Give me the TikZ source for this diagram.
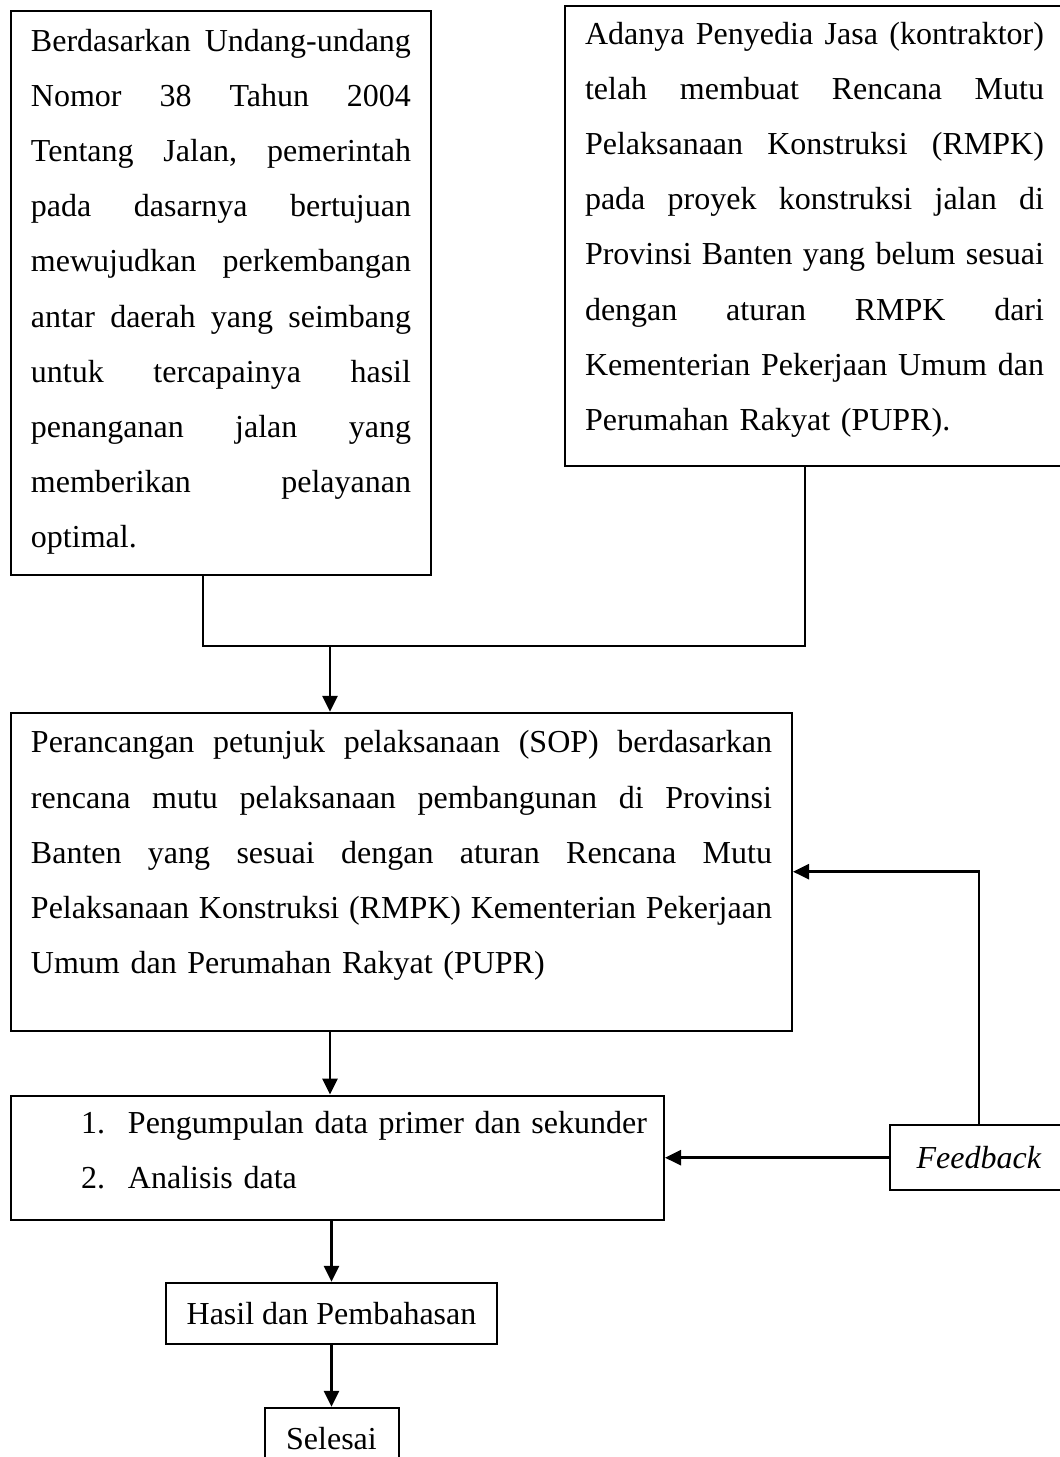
\documentclass[tikz,border=0pt]{standalone}
\usepackage{fontspec}
\setmainfont{Liberation Serif}
\usetikzlibrary{positioning,arrows.meta}

\newcommand{\boxfont}{\fontsize{16pt}{27.6pt}\selectfont}
\newcommand{\jline}[1]{\leavevmode\hbox to \linewidth{\frenchspacing\spaceskip=0.25em plus 1fil\relax #1}}
\newcommand{\firstgap}[1]{\rule{0pt}{#1}}
\newcommand{\lastgap}[1]{\rule[-#1]{0pt}{#1}}

\tikzset{
  block/.style={rectangle, draw, line width=1pt, inner xsep=10pt, inner ysep=0pt, align=left, font=\boxfont},
  smallblock/.style={rectangle, draw, line width=1pt, inner sep=0pt, minimum height=30.5pt, font=\boxfont},
  link/.style={line width=1.3pt},
  arrow/.style={link, -{Triangle[length=8pt,width=7.5pt]}}
}

\begin{document}
\begin{tikzpicture}[x=0.5pt, y=-0.5pt]
    \useasboundingbox (0,0) rectangle (1060,1457);

    % two starting boxes
    \node[block, text width=190pt, anchor=north west] (dasar) at (10,10) {%
        \firstgap{20pt}\jline{Berdasarkan Undang-undang}\\
        \jline{Nomor 38 Tahun 2004}\\
        \jline{Tentang Jalan, pemerintah}\\
        \jline{pada dasarnya bertujuan}\\
        \jline{mewujudkan perkembangan}\\
        \jline{antar daerah yang seimbang}\\
        \jline{untuk tercapainya hasil}\\
        \jline{penanganan jalan yang}\\
        \jline{memberikan pelayanan}\\
        optimal.\lastgap{13.5pt}};
    \node[block, text width=229.5pt, anchor=north west] (masalah) at (564,5) {%
        \firstgap{19pt}\jline{Adanya Penyedia Jasa (kontraktor)}\\
        \jline{telah membuat Rencana Mutu}\\
        \jline{Pelaksanaan Konstruksi (RMPK)}\\
        \jline{pada proyek konstruksi jalan di}\\
        \jline{Provinsi Banten yang belum sesuai}\\
        \jline{dengan aturan RMPK dari}\\
        \jline{Kementerian Pekerjaan Umum dan}\\
        Perumahan Rakyat (PUPR).\lastgap{17.8pt}};

    % points of the joining line
    \coordinate (m1) at (203,646);
    \coordinate (m2) at (805,646);
    \coordinate (mid) at (330,646);

    \node[block, text width=370.5pt, below=68pt of dasar.south west, anchor=north west] (sop) {%
        \firstgap{20pt}\jline{Perancangan petunjuk pelaksanaan (SOP) berdasarkan}\\
        \jline{rencana mutu pelaksanaan pembangunan di Provinsi}\\
        \jline{Banten yang sesuai dengan aturan Rencana Mutu}\\
        \jline{Pelaksanaan Konstruksi (RMPK) Kementerian Pekerjaan}\\
        Umum dan Perumahan Rakyat (PUPR)\lastgap{28.5pt}};
    \node[block, text width=306.5pt, below=31.5pt of sop.south west, anchor=north west] (data) {%
        \firstgap{19pt}\hspace*{25pt}\makebox[23.5pt][l]{1.}\mbox{Pengumpulan data primer dan sekunder}\\
        \hspace*{25pt}\makebox[23.5pt][l]{2.}Analisis data\lastgap{15.5pt}};
    \node[smallblock, minimum width=89pt, minimum height=32.5pt, right=112pt of data] (feedback) {\textit{Feedback}};
    \node[smallblock, minimum width=165.5pt, below=30.5pt of data, xshift=-3pt] (hasil) {Hasil dan Pembahasan};
    \node[smallblock, minimum width=67pt, below=31pt of hasil] (selesai) {Selesai};

    % connectors
    \draw[link] (dasar.south -| m1) -- (m1) -- (m2) -- (masalah.south -| m2);
    \draw[arrow] (mid) -- (mid |- sop.north);
    \draw[arrow] (sop.south -| mid) -- (data.north -| mid);
    \draw[arrow] (hasil.north |- data.south) -- (hasil);
    \draw[arrow] (hasil) -- (selesai);
    \draw[arrow] (feedback) -- (data);
    \draw[arrow] (feedback.north) |- (sop.east);
\end{tikzpicture}
\end{document}
